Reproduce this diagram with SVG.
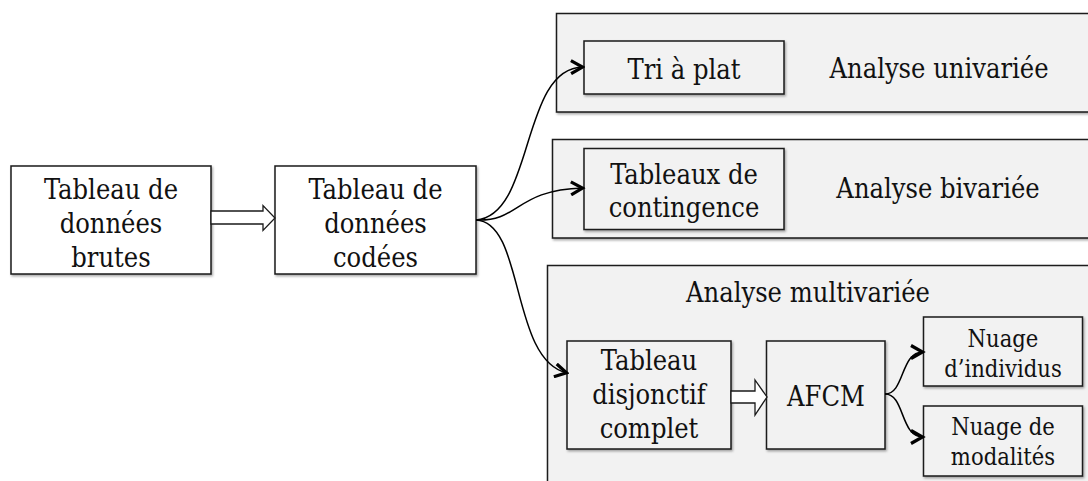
<svg xmlns="http://www.w3.org/2000/svg" width="1088" height="481" viewBox="0 0 1088 481">
<style>
.box{stroke:#1a1a1a;stroke-width:1.5}
.w{fill:#ffffff}
.g{fill:#f2f2f2}
.t{font-family:"DejaVu Serif Condensed","DejaVu Serif","Liberation Serif",serif;font-stretch:condensed;font-size:27px;fill:#111;text-anchor:middle}
.s{font-size:23.5px}
.con{fill:none;stroke:#000;stroke-width:1.5}
.blk{fill:#fff;stroke:#1a1a1a;stroke-width:1.3;stroke-linejoin:miter}
</style>
<defs>
<filter id="sh" x="-5%" y="-5%" width="115%" height="120%">
<feDropShadow dx="1.2" dy="1.6" stdDeviation="0.9" flood-color="#000" flood-opacity="0.35"/>
</filter>
<marker id="ch" markerUnits="userSpaceOnUse" viewBox="0 0 16 16" markerWidth="16" markerHeight="16" refX="13.5" refY="8" orient="auto">
<path d="M1.5,1.5 L13,8 L1.5,14.5" fill="none" stroke="#000" stroke-width="3.2"/>
</marker>
</defs>

<g id="analyse-univariee">
<rect class="box g" x="556.5" y="13.5" width="560" height="98.5" filter="url(#sh)"/>
<text class="t" x="939" y="78">Analyse univariée</text>
</g>
<g id="analyse-bivariee">
<rect class="box g" x="552.5" y="139.5" width="560" height="98.5" filter="url(#sh)"/>
<text class="t" x="938" y="198">Analyse bivariée</text>
</g>
<g id="analyse-multivariee">
<rect class="box g" x="547.5" y="265.5" width="560" height="240" filter="url(#sh)"/>
<text class="t" x="808" y="301.5">Analyse multivariée</text>
</g>

<g id="donnees-brutes">
<rect class="box w" x="11" y="166" width="200" height="108" filter="url(#sh)"/>
<text class="t" x="111" y="198.5">Tableau de</text>
<text class="t" x="111" y="232.7">données</text>
<text class="t" x="111" y="266.9">brutes</text>
</g>
<g id="donnees-codees">
<rect class="box w" x="275" y="166" width="201" height="108" filter="url(#sh)"/>
<text class="t" x="375.5" y="198.5">Tableau de</text>
<text class="t" x="375.5" y="232.7">données</text>
<text class="t" x="375.5" y="266.9">codées</text>
</g>
<g id="tri-a-plat">
<rect class="box g" x="584" y="41" width="200" height="53" filter="url(#sh)"/>
<text class="t" x="684" y="79">Tri à plat</text>
</g>
<g id="tableaux-contingence">
<rect class="box g" x="584" y="148.5" width="200" height="81" filter="url(#sh)"/>
<text class="t" x="684" y="184">Tableaux de</text>
<text class="t" x="684" y="217">contingence</text>
</g>
<g id="tableau-disjonctif">
<rect class="box g" x="567" y="341" width="164" height="108" filter="url(#sh)"/>
<text class="t" x="649" y="370">Tableau</text>
<text class="t" x="649" y="404">disjonctif</text>
<text class="t" x="649" y="438">complet</text>
</g>
<g id="afcm">
<rect class="box g" x="766.5" y="341" width="118.5" height="108" filter="url(#sh)"/>
<text class="t" x="826" y="406">AFCM</text>
</g>
<g id="nuage-individus">
<rect class="box g" x="923.5" y="317" width="159" height="69" filter="url(#sh)"/>
<text class="t s" x="1003" y="346.7">Nuage</text>
<text class="t s" x="1003" y="376.7">d’individus</text>
</g>
<g id="nuage-modalites">
<rect class="box g" x="923.5" y="406" width="159" height="70" filter="url(#sh)"/>
<text class="t s" x="1003" y="435">Nuage de</text>
<text class="t s" x="1003" y="465">modalités</text>
</g>

<g id="connectors">
<polygon class="blk" points="211,211 263,211 263,205.5 275,218 263,230.5 263,224 211,224"/>
<polygon class="blk" points="731,391 755,391 755,380 767,397 755,415 755,403 731,403"/>
<path class="con" d="M476,220 C535,215 520,68 583,67" marker-end="url(#ch)"/>
<path class="con" d="M476,220 C520,222 515,190 583,188" marker-end="url(#ch)"/>
<path class="con" d="M476,220 C525,222 510,360 567,373" marker-end="url(#ch)"/>
<path class="con" d="M885,394 C905,394 900,352 923,352" marker-end="url(#ch)"/>
<path class="con" d="M885,394 C905,394 900,437 923,437" marker-end="url(#ch)"/>
</g>
</svg>
